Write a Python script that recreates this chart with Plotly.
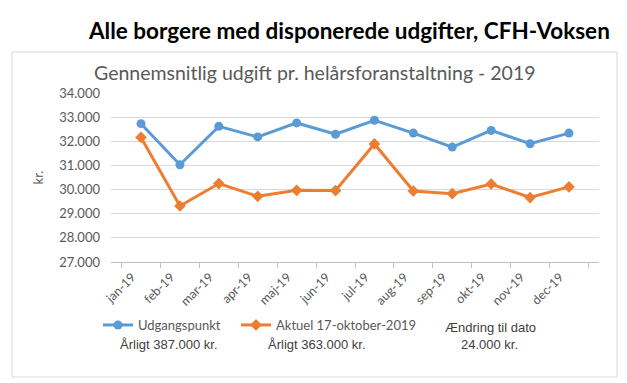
import plotly.graph_objects as go

months = ["jan-19", "feb-19", "mar-19", "apr-19", "maj-19", "jun-19",
          "jul-19", "aug-19", "sep-19", "okt-19", "nov-19", "dec-19"]
udgangspunkt = [32730, 31030, 32620, 32180, 32760, 32290,
                32870, 32340, 31760, 32450, 31900, 32340]
aktuel = [32160, 29320, 30250, 29720, 29970, 29960,
          31890, 29940, 29830, 30230, 29670, 30110]
series_names = ["Udgangspunkt", "Aktuel 17-oktober-2019"]
main_title = "Alle borgere med disponerede udgifter, CFH-Voksen"
sub_title = "Gennemsnitlig udgift pr. helårsforanstaltning - 2019"
notes = ["Årligt 387.000 kr.", "Årligt 363.000 kr.", "Ændring til dato", "24.000 kr."]

W, H = 627, 383
L, R, T, B = 111, 28, 93, 121
pw, ph = W - L - R, H - T - B

def px(x):
    return (x - L) / pw

def py(y):
    return (H - B - y) / ph

blue = "#5B9BD5"
orange = "#ED7D31"
gray = "#595959"

fig = go.Figure()
fig.add_trace(go.Scatter(x=months, y=udgangspunkt, name=series_names[0],
                         mode="lines+markers", legend="legend",
                         line=dict(color=blue, width=3),
                         marker=dict(symbol="circle", size=9, color=blue)))
fig.add_trace(go.Scatter(x=months, y=aktuel, name=series_names[1],
                         mode="lines+markers", legend="legend2",
                         line=dict(color=orange, width=3),
                         marker=dict(symbol="diamond", size=9, color=orange)))

leg_common = dict(orientation="h", xanchor="left", yanchor="middle",
                  font=dict(family="Lato, sans-serif", size=13, color=gray),
                  bgcolor="rgba(0,0,0,0)", itemwidth=30)

fig.update_layout(
    width=W, height=H,
    margin=dict(l=L, r=R, t=T, b=B),
    paper_bgcolor="white", plot_bgcolor="white",
    separators=",.",
    font=dict(family="Lato, Open Sans, sans-serif", color=gray),
    showlegend=True,
    legend=dict(x=px(98), y=py(325), **leg_common),
    legend2=dict(x=px(236), y=py(325), **leg_common),
    xaxis=dict(type="category", tickangle=-45, tickson="boundaries",
               ticks="outside", ticklen=5, tickcolor="#BFBFBF",
               showline=True, linecolor="#BFBFBF", linewidth=1,
               ticklabelshift=-9, ticklabelstandoff=2,
               showgrid=False, tickfont=dict(size=12.5, color=gray,
                                               family="Lato, sans-serif")),
    yaxis=dict(range=[27000, 34000], dtick=1000, tickformat=",d",
               showgrid=True, gridcolor="#D9D9D9", gridwidth=1,
               zeroline=False, showline=False,
               ticklabelstandoff=10,
               tickfont=dict(size=13, color=gray, family="Lato, sans-serif"),
               title=dict(text="kr.", font=dict(size=13, color=gray), standoff=12)),
)

shapes = [dict(type="rect", xref="paper", yref="paper",
               x0=px(12), x1=px(617), y0=py(377), y1=py(52),
               line=dict(color="#D9D9D9", width=1), fillcolor="rgba(0,0,0,0)", layer="below")]
fig.update_layout(shapes=shapes)

note_font = dict(family="Liberation Sans, Arial", size=13, color="#404040")
ann = [
    dict(text="<b>" + main_title + "</b>", x=px(612), y=py(30), xanchor="right", yanchor="middle",
         font=dict(family="Lato, sans-serif", size=22.5, color="black")),
    dict(text=sub_title, x=px(315), y=py(72), xanchor="center", yanchor="middle",
         font=dict(family="Lato, sans-serif", size=19.5, color=gray)),
    dict(text=notes[0], x=px(169), y=py(344), xanchor="center", yanchor="middle", font=note_font),
    dict(text=notes[1], x=px(317), y=py(344), xanchor="center", yanchor="middle", font=note_font),
    dict(text=notes[2], x=px(490), y=py(327), xanchor="center", yanchor="middle", font=note_font),
    dict(text=notes[3], x=px(489), y=py(344), xanchor="center", yanchor="middle", font=note_font),
]
for a in ann:
    a.update(xref="paper", yref="paper", showarrow=False)
fig.update_layout(annotations=ann)

fig.write_html("out.html", config={"displayModeBar": False},
               post_script="document.body.style.margin='0';")
